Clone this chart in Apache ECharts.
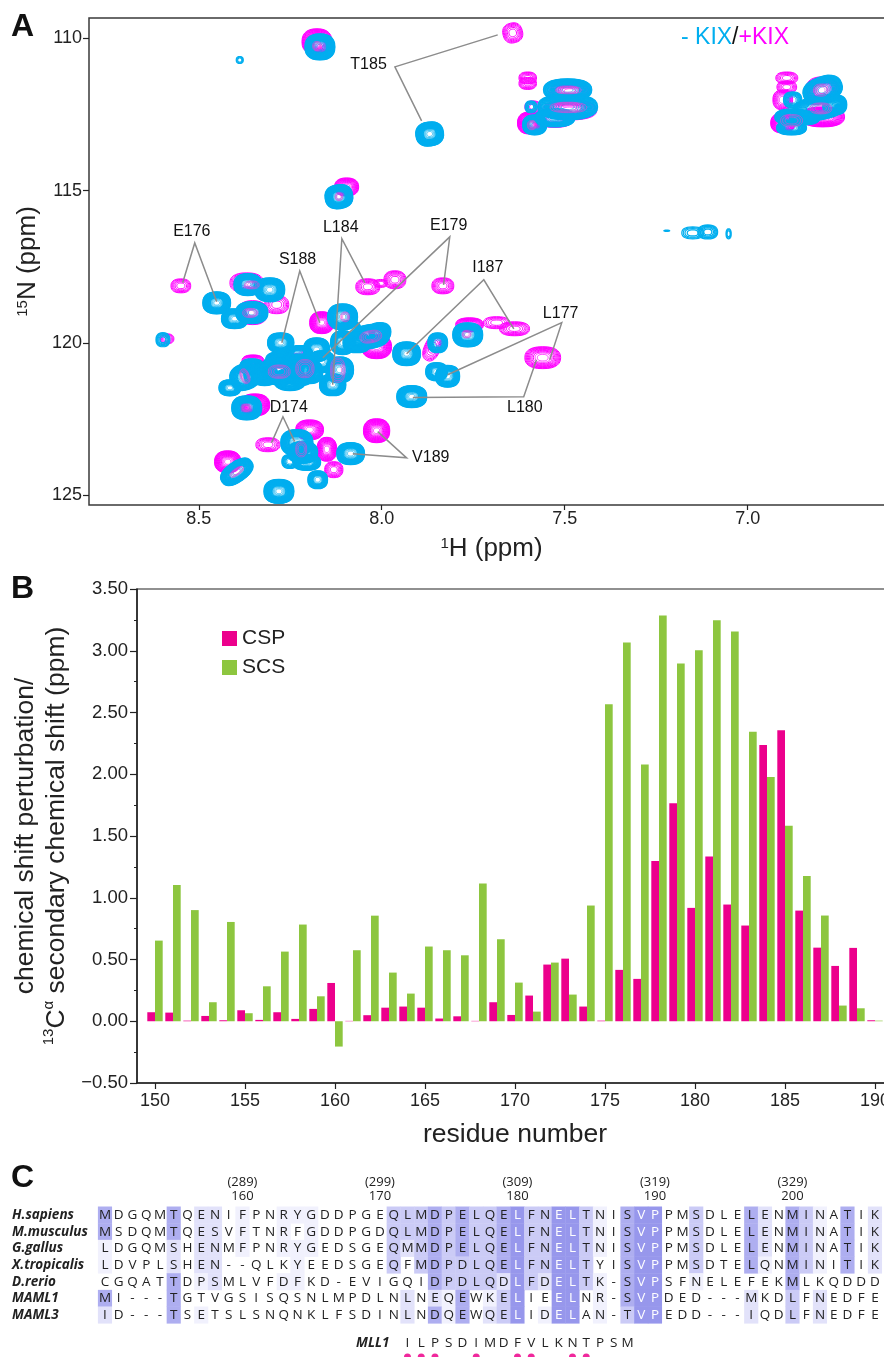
<!DOCTYPE html>
<html><head><meta charset="utf-8">
<style>html,body{margin:0;padding:0;background:#fff;overflow:hidden}#c{width:884px;height:1357px}</style>
<script src="https://cdn.jsdelivr.net/npm/echarts@6/dist/echarts.min.js"></script>
</head><body><div id="c"></div>
<script>
// ---------- Panel A: HSQC peaks [1H ppm, 15N ppm, half-width 1H, half-width 15N, tilt deg, contour levels]
const peaksPlusKIX = [
[8.177,110.11,.041,.427,0,16],[7.642,109.82,.027,.328,15,7],[8.096,114.88,.033,.296,0,13],
[7.601,111.30,.024,.197,0,6],[7.601,111.48,.024,.197,0,6],[7.587,112.25,.022,.197,0,6],[7.596,112.78,.033,.361,0,18],
[7.486,111.74,.055,.3,0,12],[7.486,112.35,.074,.328,0,12],[7.527,112.66,.049,.263,0,14],
[6.893,111.3,.03,.197,0,6],[6.893,111.6,.027,.197,0,6],[6.904,112.02,.027,.328,0,8],[6.795,111.69,.046,.427,0,12],
[6.795,112.58,.06,.328,0,16],[6.904,112.78,.033,.328,0,16],
[8.549,118.13,.027,.23,0,6],[8.369,118.03,.046,.328,0,8],[8.287,118.75,.033,.296,0,6],[8.353,119.01,.041,.394,0,12],
[8.587,119.87,.019,.164,0,5],[8.164,119.34,.033,.361,0,18],[8.014,120.13,.041,.394,0,18],[8.038,118.16,.033,.263,0,7],
[7.964,117.93,.03,.296,0,7],[8.003,118.05,.019,.13,0,4],[8.311,123.35,.033,.23,0,6],[8.197,122.86,.038,.328,0,14],
[8.15,123.5,.027,.394,0,14],[8.014,122.89,.036,.394,0,18],[8.131,124.17,.025,.263,0,7],[8.421,123.91,.036,.361,0,18],
[8.347,122.04,.041,.361,0,18],[8.352,120.6,.03,.2,0,10],[8.232,120.3,.03,.16,0,10],
[7.833,118.13,.03,.263,0,7],[7.637,119.54,.041,.23,0,7],[7.686,119.34,.036,.197,0,5],[7.76,119.41,.038,.23,0,12],
[7.861,120.16,.022,.46,-25,6],[7.56,120.49,.049,.361,0,11]
];
const peaksMinusKIX = [
[8.169,110.28,.041,.427,0,24],[8.388,110.71,.0096,.115,0,3],[7.869,113.14,.038,.394,8,24],[8.117,115.2,.038,.394,8,24],
[7.582,112.84,.033,.328,0,20],[7.592,112.25,.016,.197,0,5],[7.492,111.69,.066,.36,0,20],[7.492,112.25,.082,.42,0,22],[7.527,112.61,.055,.3,0,20],
[6.877,112.02,.025,.263,0,8],[6.795,111.69,.055,.427,20,20],[6.803,112.28,.074,.394,10,20],[6.877,112.58,.049,.263,0,18],[6.88,112.94,.041,.23,0,18],
[6.762,112.18,.033,.328,0,16],[6.844,112.61,.041,.23,0,14],
[7.15,116.39,.03,.197,0,4],[7.109,116.36,.027,.23,0,6],[7.052,116.42,.007,.164,0,3],[7.221,116.32,.008,.016,0,1],
[8.451,118.69,.038,.361,0,24],[8.366,118.09,.038,.361,0,22],[8.306,118.26,.041,.394,0,22],[8.402,119.21,.036,.328,0,20],
[8.355,119.01,.044,.361,0,22],[8.598,119.9,.019,.23,0,6],[8.276,120,.036,.328,0,20],[8.415,121.48,.03,.263,0,18],
[8.374,121.12,.041,.427,20,20],[8.355,120.79,.033,.263,0,18],[8.369,122.14,.041,.394,0,24],[8.279,120.89,.049,.493,0,22],
[8.224,120.89,.044,.525,0,22],[8.279,120.56,.038,.263,0,18],[8.178,120.23,.036,.394,0,20],[8.134,121.38,.036,.361,0,22],
[8.115,120.89,.038,.427,0,20],[8.107,120,.033,.394,0,20],[8.107,119.15,.041,.427,0,22],[8.033,119.8,.055,.394,10,20],
[8.068,120,.038,.328,0,18],[7.932,120.36,.038,.394,0,24],[7.918,121.77,.041,.361,0,24],[8.232,123.28,.044,.427,0,22],
[8.216,123.6,.041,.361,0,20],[8.205,123.93,.038,.263,0,18],[8.251,123.9,.022,.23,0,8],[8.085,123.64,.038,.361,0,20],
[8.175,124.5,.027,.296,0,14],[8.396,124.24,.049,.328,35,22],[8.281,124.88,.041,.394,0,24],[7.765,119.74,.041,.394,0,22],
[7.847,120,.027,.328,0,14],[7.85,120.95,.03,.3,0,14],[7.82,121.1,.033,.36,0,18],
[8.32,121.05,.036,.36,0,18],[8.251,121.21,.044,.36,0,18],[8.197,120.95,.036,.394,0,18],[8.164,120.62,.036,.36,0,18],
[8.224,120.39,.036,.3,0,16],[8.347,121.05,.03,.33,0,16],[8.005,119.64,.03,.3,0,16],[8.087,119.57,.03,.3,0,16]
];
// magenta contour centres that show through the blue clusters
const peakCores = [
[8.177,110.25,.012,.15,0,3],[8.117,115.2,.01,.13,0,3],[8.374,121.1,.012,.25,20,4],[8.28,120.95,.03,.22,0,4],[8.21,120.85,.025,.3,0,4],
[8.12,120.9,.02,.4,0,4],[8.1,119.15,.012,.16,0,3],[8.03,119.8,.03,.2,10,4],[8.37,122.14,.012,.12,0,3],[8.36,119.02,.02,.15,0,3],
[8.355,118.1,.02,.13,0,3],[7.49,111.7,.035,.12,0,3],[7.49,112.27,.05,.17,0,4],[6.8,111.7,.02,.2,0,3],[6.8,112.3,.03,.18,0,4],
[8.396,124.24,.022,.1,35,3],[8.22,123.5,.015,.25,0,3],[7.768,119.72,.012,.12,0,3],[7.59,112.85,.012,.15,0,3],[6.88,112.7,.03,.2,0,3]
];
const peakLabels = ['T185','E176','S188','L184','E179','I187','L177','L180','D174','V189'];
const labelPpm = [[8.036,110.87],[8.519,116.35],[8.23,117.27],[8.112,116.22],[7.817,116.16],[7.71,117.54],[7.511,119.05],[7.609,122.13],[8.254,122.13],[7.866,123.78]];
const leaderPaths = [
[[7.891,112.71],[7.964,110.936],[7.683,109.885]],
[[8.544,118.03],[8.511,116.72],[8.451,118.65]],
[[8.273,120.0],[8.224,117.64],[8.169,119.34]],
[[8.134,121.38],[8.109,116.58],[8.046,118.03]],
[[7.831,118.1],[7.814,116.52],[8.161,120.49]],
[[7.639,119.54],[7.721,117.93],[7.932,120.36]],
[[7.541,120.56],[7.508,119.34],[7.82,121.05]],
[[7.577,120.56],[7.612,121.77],[7.915,121.8]],
[[8.301,123.28],[8.27,122.43],[8.238,123.25]],
[[8.011,122.92],[7.932,123.78],[8.079,123.65]]
];
const hTicks = [7,7.5,8,8.5];
const nTicks = [110,115,120,125];
// ---------- Panel B
const residues = ['149','150','151','152','153','154','155','156','157','158','159','160','161','162','163','164','165','166','167','168','169','170','171','172','173','174','175','176','177','178','179','180','181','182','183','184','185','186','187','188','189','190','191'];
const csp = [null,.073,.07,.005,.043,.008,.089,.011,.073,.019,.10,.31,.003,.049,.11,.119,.11,.022,.04,.003,.154,.051,.208,.459,.507,.119,.005,.416,.343,1.298,1.765,.918,1.333,.945,.775,2.237,2.356,.896,.596,.448,.594,.008,null];
const scs = [null,.653,1.104,.90,.154,.804,.065,.283,.564,.783,.202,-.205,.575,.855,.394,.224,.605,.575,.534,1.115,.664,.313,.078,.475,.216,.937,2.567,3.066,2.078,3.285,2.896,3.004,3.247,3.155,2.345,1.978,1.584,1.177,.856,.127,.105,.005,null];
// ---------- Panel C
const speciesNames = ['H.sapiens','M.musculus','G.gallus','X.tropicalis','D.rerio','MAML1','MAML3'];
const sequences = [
'MDGQMTQENIFPNRYGDDPGEQLMDPELQELFNELTNISVPPMSDLELENMINATIKC',
'MSDQMTQESVFTNRFGDDPGDQLMDPELQELFNELTNISVPPMSDLELENMINATIKC',
'LDGQMSHENMFPNRYGEDSGEQMMDPELQELFNELTNISVPPMSDLELENMINATIKC',
'LDVPLSHEN--QLKYEEDSGEQFMDPDLQELFNELTYISVPPMSDTELQNMINITIKC',
'CGQATTDPSMLVFDFKD-EVIGQIDPDLQDLFDELTK-SVPSFNELEFEKMLKQDDD',
'MI---TGTVGSISQSNLMPDLNLNEQEWKELIEELNR-SVPDED---MKDLFNEDFE',
'ID---TSETSLSNQNKLFSDINLNDQEWQELIDELAN-TVPEDD---IQDLFNEDFE'
];
const conservation = [
'4000040220'+'1001110000'+'0333434334'+'5335531045'+'5003000420'+'43104020',
'4000040220'+'1001010000'+'0333434334'+'5335531045'+'5003000420'+'43104020',
'1000020220'+'1001110000'+'0323434334'+'5335531045'+'5003000420'+'43104020',
'1000020220'+'0000100000'+'0303433334'+'5335530045'+'5003000410'+'43104020',
'0000040120'+'0001100000'+'0000433332'+'5325531045'+'5001000000'+'40000000',
'4000040000'+'0000000000'+'0020214013'+'5005501045'+'5000000200'+'30200000',
'2000040100'+'0000000000'+'0020414023'+'5015501035'+'5000000200'+'30200000'
];
const shades = ['#ffffff','#f1f1fd','#e2e2fa','#cbcbf6','#aeaef0','#9797ec'];
const columnIds = sequences[0].split('').map((_,i)=>String(i));
const columnLabels = {10:'(289)\n160',20:'(299)\n170',30:'(309)\n180',40:'(319)\n190',50:'(329)\n200'};
const mll1Letters = 'ILPSDIMDFVLKNTPSM';
const mll1Start = 22;
const mll1Contacts = [22,23,24,27,30,31,34,35];
const mllRows = ['MLL1','contact'];

const SANS = '"Liberation Sans",Arial,sans-serif';
const ALN = '"Open Sans",sans-serif';
const CYAN='#00aeef', MAG='#ff00ff', INK='#222';

function blobOutline(a,b,rot){ // rounded contour outline
  const pts=[], N=28, e=2/2.4, cr=Math.cos(rot), sr=Math.sin(rot);
  for(let i=0;i<N;i++){
    const t=i/N*2*Math.PI, c=Math.cos(t), s=Math.sin(t);
    const x=a*Math.sign(c)*Math.pow(Math.abs(c),e), y=b*Math.sign(s)*Math.pow(Math.abs(s),e);
    pts.push([x*cr+y*sr, -x*sr+y*cr]);
  }
  return pts;
}
function peakSeries(data, color, opts){
  opts = opts||{};
  return {
    type:'custom', coordinateSystem:'cartesian2d', xAxisIndex:0, yAxisIndex:0, clip:true, silent:true,
    data:data, encode:{x:0,y:1}, z:opts.z||2,
    renderItem:function(params, api){
      const d = data[params.dataIndex];
      const c = api.coord([d[0],d[1]]);
      const sz = api.size([d[2],d[3]],[d[0],d[1]]);
      const n = d[5], rot = d[4]*Math.PI/180, kids=[];
      for(let k=0;k<n;k++){
        const f = Math.sqrt(1-k/n);
        kids.push({type:'polygon', x:c[0], y:c[1],
          shape:{points:blobOutline(Math.max(sz[0]*f,.6),Math.max(sz[1]*f,.6),rot)},
          style:{fill:'none',stroke:color,lineWidth:(f<.45&&n>7)?.7:(opts.lw||1),opacity:opts.op||1}});
      }
      return {type:'group',children:kids};
    }
  };
}

const cells=[];
sequences.forEach((s,r)=>s.split('').forEach((ch,c)=>cells.push([c,r,+conservation[r][c],ch])));
const mllCells = mll1Letters.split('').map((ch,i)=>[mll1Start+i,0,ch]);

const option = {
  animation:false, backgroundColor:'#fff',
  textStyle:{fontFamily:SANS,color:INK},
  grid:[
    {outerBoundsMode:'none',left:89,top:18,width:805,height:487,show:true,borderColor:'#3a3a3a',borderWidth:1.5,backgroundColor:'transparent'},
    {outerBoundsMode:'none',left:137,top:589,width:756,height:494,show:true,borderColor:'#222',borderWidth:1.2,backgroundColor:'transparent'},
    {outerBoundsMode:'none',left:98.1,top:1206.7,width:797.5,height:116.7},
    {outerBoundsMode:'none',left:98.1,top:1336,width:797.5,height:28}
  ],
  xAxis:[
    {gridIndex:0,type:'value',inverse:true,min:6.6,max:8.8,splitLine:{show:false},
     axisLine:{show:false},
     axisTick:{show:true,length:5,customValues:hTicks,lineStyle:{color:INK,width:1.2}},
     axisLabel:{customValues:hTicks,fontSize:18,color:INK,margin:5,formatter:v=>v.toFixed(1),fontFamily:SANS},
     name:'{s|1}{t|H (ppm)}',nameLocation:'middle',nameGap:31,
     nameTextStyle:{rich:{s:{fontSize:15,verticalAlign:'top',lineHeight:26,fontFamily:SANS,color:INK},t:{fontSize:26,lineHeight:26,fontFamily:SANS,color:INK}}}},
    {gridIndex:1,type:'category',data:residues,boundaryGap:false,
     axisLine:{onZero:false,lineStyle:{color:INK,width:1.5}},
     axisTick:{length:6,interval:(i,v)=>+v%5===0,lineStyle:{color:INK,width:1.2}},
     axisLabel:{interval:(i,v)=>+v%5===0,fontSize:18,color:INK,margin:9,fontFamily:SANS},
     name:'residue number',nameLocation:'middle',nameGap:38,
     nameTextStyle:{fontSize:26.5,color:INK,fontFamily:SANS}},
    {gridIndex:2,type:'category',position:'top',data:columnIds,
     axisLine:{show:false},
     axisTick:{alignWithLabel:true,length:4,interval:i=>i>0&&i%5===0,lineStyle:{color:'#222',width:1}},
     axisLabel:{interval:i=>!!columnLabels[i],formatter:(v)=>columnLabels[+v]||'',fontSize:13,lineHeight:13.5,color:'#222',margin:4,fontFamily:ALN}},
    {gridIndex:3,type:'category',data:columnIds,axisLine:{show:false},axisTick:{show:false},axisLabel:{show:false}}
  ],
  yAxis:[
    {gridIndex:0,type:'value',inverse:true,min:109.33,max:125.33,splitLine:{show:false},
     axisLine:{show:false},
     axisTick:{show:true,length:6,customValues:nTicks,lineStyle:{color:INK,width:1.2}},
     axisLabel:{customValues:nTicks,fontSize:18,color:INK,margin:7,fontFamily:SANS},
     name:'{s|15}{t|N (ppm)}',nameLocation:'middle',nameGap:41,nameRotate:90,
     nameTextStyle:{rich:{s:{fontSize:15,verticalAlign:'top',lineHeight:26,fontFamily:SANS,color:INK},t:{fontSize:26,lineHeight:26,fontFamily:SANS,color:INK}}}},
    {gridIndex:1,type:'value',min:-0.5,max:3.5,interval:0.5,splitLine:{show:false},
     axisLine:{show:true,onZero:false,lineStyle:{color:INK,width:1.5}},
     axisTick:{show:true,length:7,lineStyle:{color:INK,width:1.2}},
     minorTick:{show:true,splitNumber:2,length:3,lineStyle:{color:INK,width:1}},
     axisLabel:{fontSize:18.5,color:INK,margin:9,fontFamily:SANS,formatter:v=>(v<0?'\u2212':'')+Math.abs(v).toFixed(2)},
     name:'{a|chemical shift perturbation/}\n{s|13}{a|C}{s|\u03b1}{a| secondary chemical shift (ppm)}',
     nameLocation:'middle',nameGap:65,nameRotate:90,
     nameTextStyle:{align:'center',rich:{a:{fontSize:26.5,lineHeight:31,fontFamily:SANS,color:INK},s:{fontSize:15,lineHeight:31,verticalAlign:'top',fontFamily:SANS,color:INK}}}},
    {gridIndex:2,type:'category',inverse:true,data:speciesNames,axisLine:{show:false},axisTick:{show:false},
     axisLabel:{interval:0,align:'left',margin:86,fontSize:13.5,fontWeight:'bold',fontStyle:'italic',color:'#222',fontFamily:ALN}},
    {gridIndex:3,type:'category',inverse:true,data:mllRows,axisLine:{show:false},axisTick:{show:false},
     axisLabel:{interval:0,align:'left',margin:-258,fontSize:13.5,fontWeight:'bold',fontStyle:'italic',color:'#222',fontFamily:ALN,formatter:v=>v==='MLL1'?v:''}}
  ],
  legend:{data:['CSP','SCS'],orient:'vertical',left:217,top:623,itemWidth:15,itemHeight:15,itemGap:8,icon:'rect',
    textStyle:{fontSize:21,color:INK,fontFamily:SANS},itemStyle:{borderWidth:0}},
  graphic:[
    {type:'text',left:11,top:11,style:{text:'A',font:'bold 32px '+SANS,fill:'#111'}},
    {type:'text',left:11,top:573,style:{text:'B',font:'bold 32px '+SANS,fill:'#111'}},
    {type:'text',left:11,top:1162,style:{text:'C',font:'bold 32px '+SANS,fill:'#111'}},
    {type:'text',left:681,top:26,style:{text:'{a|- KIX}{b|/}{c|+KIX}',rich:{
      a:{fontSize:23,fontFamily:SANS,fill:CYAN,color:CYAN},
      b:{fontSize:23,fontFamily:SANS,fill:'#111',color:'#111'},
      c:{fontSize:23,fontFamily:SANS,fill:MAG,color:MAG}}}}
  ],
  series:[
    peakSeries(peaksPlusKIX,MAG,{z:2}),
    peakSeries(peaksMinusKIX,CYAN,{z:3,lw:1.2}),
    peakSeries(peakCores,'#f23fd8',{z:4,lw:.8,op:.75}),
    ...leaderPaths.map(p=>({type:'line',xAxisIndex:0,yAxisIndex:0,data:p,symbol:'none',silent:true,z:5,
      lineStyle:{color:'#8c8c8c',width:1.5,join:'miter'}})),
    {type:'scatter',xAxisIndex:0,yAxisIndex:0,symbolSize:0,silent:true,z:6,itemStyle:{opacity:1},
     data:peakLabels.map((n,i)=>({name:n,value:labelPpm[i]})),
     label:{show:true,position:'inside',formatter:'{b}',fontSize:16,color:'#111',opacity:1,fontFamily:SANS}},
    {name:'CSP',type:'bar',xAxisIndex:1,yAxisIndex:1,data:csp,barWidth:7.7,barGap:'0%',itemStyle:{color:'#ec008c'}},
    {name:'SCS',type:'bar',xAxisIndex:1,yAxisIndex:1,data:scs,barWidth:7.7,barGap:'0%',itemStyle:{color:'#8dc63f'}},
    {type:'custom',coordinateSystem:'cartesian2d',xAxisIndex:2,yAxisIndex:2,silent:true,clip:false,
     data:cells.map(c=>[c[0],c[1]]),encode:{x:0,y:1},
     renderItem:function(params,api){
       const d=cells[params.dataIndex], p=api.coord([d[0],d[1]]), s=api.size([1,1]);
       const kids=[];
       if(d[2]>0) kids.push({type:'rect',shape:{x:p[0]-s[0]/2-.2,y:p[1]-s[1]/2-.2,width:s[0]+.4,height:s[1]+.4},style:{fill:shades[d[2]]}});
       kids.push({type:'text',style:{text:d[3],x:p[0],y:p[1],textAlign:'center',textVerticalAlign:'middle',
         font:'13.5px '+ALN,fill:d[2]===5?'#fff':'#222'}});
       return {type:'group',children:kids};
     }},
    {type:'custom',coordinateSystem:'cartesian2d',xAxisIndex:3,yAxisIndex:3,silent:true,clip:false,
     data:mllCells.map(c=>[c[0],c[1]]),encode:{x:0,y:1},
     renderItem:function(params,api){
       const d=mllCells[params.dataIndex], p=api.coord([d[0],d[1]]);
       return {type:'text',style:{text:d[2],x:p[0],y:p[1],textAlign:'center',textVerticalAlign:'middle',font:'13.5px '+ALN,fill:'#222'}};
     }},
    {type:'scatter',xAxisIndex:3,yAxisIndex:3,symbolSize:7,silent:true,itemStyle:{color:'#f0289c',opacity:1},
     data:mll1Contacts.map(c=>[c,1])}
  ]
};
echarts.init(document.getElementById('c'),null,{renderer:'canvas'}).setOption(option);
</script></body></html>
